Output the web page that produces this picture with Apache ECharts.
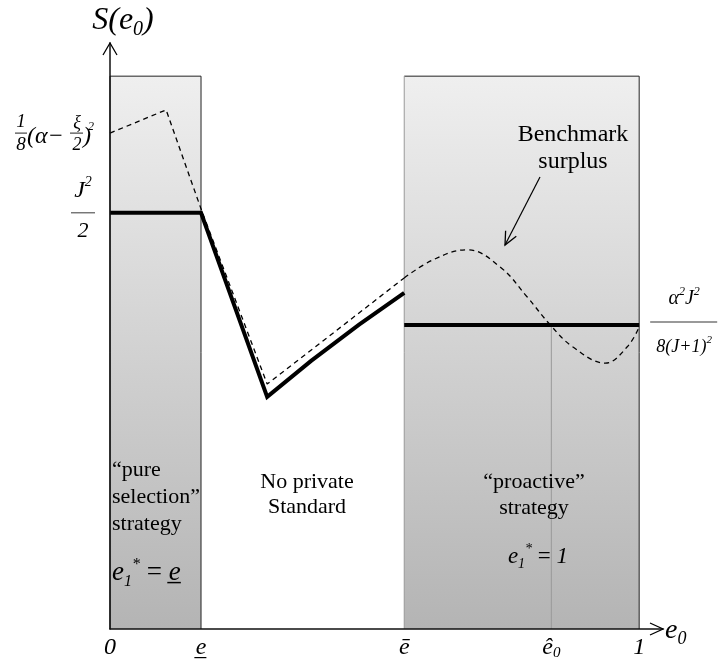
<!DOCTYPE html>
<html>
<head>
<meta charset="utf-8">
<script src="https://cdn.jsdelivr.net/npm/echarts@6/dist/echarts.min.js"></script>
<style>
html, body { margin: 0; padding: 0; background: #fff; }
#chart { width: 718px; height: 663px; }
</style>
</head>
<body>
<div id="chart"></div>
<script>
// region bounds on the e0 axis: [0, e_] and [ē, 1]
const regionX = [[0, 0.172], [0.556, 1]];
const regionTop = 100;
const eHat = 0.834;
const eHatLevel = 55;

const xTickValues = [0, 0.172, 0.556, 0.834, 1];
const xTickLabels = ['{i|0}', '{i|e\u0332}', '{i|\u0113}', '{i|\u00ea}{sub|0}', '{i|1}'];

// benchmark surplus (dashed): kinked part, then smooth part
const benchX1 = [0, 0.106, 0.172, 0.297, 0.556];
const benchY1 = [89.7, 93.9, 76.0, 44.3, 63.5];
const benchX2 = [0.556, 0.611, 0.675, 0.737, 0.788, 0.832, 0.875, 0.936, 0.977, 1.0];
const benchY2 = [63.5, 66.8, 68.6, 65.5, 60.1, 55.0, 51.0, 48.1, 51.0, 54.6];

// equilibrium surplus (thick)
const surplusX1 = [0, 0.172, 0.297, 0.380, 0.470, 0.556];
const surplusY1 = [75.3, 75.3, 42.0, 48.5, 55.0, 60.8];
const surplusX2 = [0.556, 1];
const surplusY2 = [55, 55];

// y levels of the formula labels
const levelTop = 89.7;   // 1/8(α−ξ/2)²
const levelJ = 75.3;     // J²/2
const levelRight = 55;   // α²J²/8(J+1)²

const FONT = '"Liberation Serif", "Times New Roman", serif';
const pts = (xs, ys) => xs.map((x, i) => [x, ys[i]]);

const chart = echarts.init(document.getElementById('chart'));

const option = {
  animation: false,
  grid: { left: 110, right: 55, top: 43, bottom: 34 },
  xAxis: {
    type: 'value', min: 0, max: 1.045, z: 10,
    axisLine: { show: true, lineStyle: { color: '#111', width: 1.5 } },
    axisTick: { show: false },
    splitLine: { show: false },
    axisLabel: {
      customValues: xTickValues,
      margin: 6,
      color: '#000',
      formatter: v => xTickLabels[xTickValues.indexOf(v)] || '',
      rich: {
        i: { fontSize: 24, fontStyle: 'italic', fontFamily: FONT, lineHeight: 26, color: '#000' },
        sub: { fontSize: 15, fontStyle: 'italic', fontFamily: FONT, lineHeight: 14, verticalAlign: 'bottom', color: '#000' }
      }
    }
  },
  yAxis: {
    type: 'value', min: 0, max: 106, z: 10,
    axisLine: { show: true, lineStyle: { color: '#111', width: 1.5 } },
    axisTick: { show: false },
    splitLine: { show: false },
    axisLabel: { show: false }
  },
  series: [
    {
      type: 'custom', z: 1, silent: true,
      data: regionX.map(r => [r[0], r[1], regionTop, 0]),
      encode: { x: [0, 1], y: [2, 3] },
      renderItem: (params, api) => {
        const p0 = api.coord([api.value(0), api.value(2)]);
        const p1 = api.coord([api.value(1), api.value(3)]);
        const line = (x1, y1, x2, y2, c) => ({
          type: 'line', shape: { x1, y1, x2, y2 }, style: { stroke: c, lineWidth: 1 }
        });
        return {
          type: 'group',
          children: [
            {
              type: 'rect',
              shape: { x: p0[0], y: p0[1], width: p1[0] - p0[0], height: p1[1] - p0[1] },
              style: {
                fill: {
                  type: 'linear', x: 0, y: 0, x2: 0, y2: 1,
                  colorStops: [{ offset: 0, color: '#efefef' }, { offset: 1, color: '#b4b4b4' }]
                }
              }
            },
            line(p0[0], p0[1], p1[0], p0[1], '#222'),
            line(p1[0], p0[1], p1[0], p1[1], '#222'),
            line(p0[0], p0[1], p0[0], p1[1], params.dataIndex === 0 ? '#222' : '#999')
          ]
        };
      }
    },
    {
      type: 'line', z: 2, symbol: 'none', silent: true,
      data: [[eHat, 0], [eHat, eHatLevel]],
      lineStyle: { color: '#999', width: 1 }
    },
    {
      type: 'line', z: 3, symbol: 'none', silent: true,
      data: pts(benchX1, benchY1),
      lineStyle: { color: '#000', width: 1.3, type: [5, 4] }
    },
    {
      type: 'line', z: 3, symbol: 'none', silent: true, smooth: 0.4,
      data: pts(benchX2, benchY2),
      lineStyle: { color: '#000', width: 1.3, type: [5, 4] }
    },
    {
      type: 'line', z: 4, symbol: 'none', silent: true,
      data: pts(surplusX1, surplusY1),
      lineStyle: { color: '#000', width: 4, join: 'miter' }
    },
    {
      type: 'line', z: 4, symbol: 'none', silent: true,
      data: pts(surplusX2, surplusY2),
      lineStyle: { color: '#000', width: 4 }
    }
  ]
};
chart.setOption(option);

// ---- annotations ----
const px = (x, y) => chart.convertToPixel({ gridIndex: 0 }, [x, y]);
const it = (size) => ({ fontSize: size, fontStyle: 'italic', fontFamily: FONT, fill: '#000' });

function txt(x, y, text, size, opts) {
  opts = opts || {};
  return {
    type: 'text', x, y, z: 20, silent: true,
    style: Object.assign({
      text,
      fontSize: size,
      fontFamily: FONT,
      fontStyle: opts.italic ? 'italic' : 'normal',
      fill: '#000',
      align: opts.align || 'center',
      verticalAlign: 'middle',
      lineHeight: opts.lineHeight
    }, opts.rich ? { rich: opts.rich } : {})
  };
}
function seg(x1, y1, x2, y2, color, width) {
  return {
    type: 'line', z: 20, silent: true,
    shape: { x1, y1, x2, y2 },
    style: { stroke: color || '#000', lineWidth: width || 1 }
  };
}
function chevron(tip, dx, dy, len, spread) {
  // open arrowhead pointing along (dx, dy)
  const n = Math.hypot(dx, dy);
  const ux = dx / n, uy = dy / n;
  const bx = tip[0] - ux * len, by = tip[1] - uy * len;
  return {
    type: 'polyline', z: 20, silent: true,
    shape: { points: [[bx - uy * spread, by + ux * spread], tip, [bx + uy * spread, by - ux * spread]] },
    style: { stroke: '#000', lineWidth: 1.3, fill: null }
  };
}

const supRich = (size, supSize) => ({
  m: Object.assign(it(size), { lineHeight: size + 6 }),
  p: Object.assign(it(supSize), { lineHeight: supSize + 2, verticalAlign: 'top' }),
  b: Object.assign(it(supSize), { lineHeight: supSize + 2, verticalAlign: 'bottom' }),
  r: { fontSize: size, fontFamily: FONT, fill: '#000', lineHeight: size + 6 }
});

const origin = px(0, 0);
const yEnd = [origin[0], 43];
const xEnd = [663, origin[1]];
const g = [];

// axis arrowheads and titles
g.push(chevron(yEnd, 0, -1, 12, 7));
g.push(chevron(xEnd, 1, 0, 13, 6));
g.push(txt(123, 21, '{m|S(}{m|e}{b|0}{m|)}', 32, { rich: supRich(32, 20) }));
g.push(txt(665, 631, '{m|e}{b|0}', 28, { align: 'left', rich: supRich(28, 18) }));

// 1/8(α−ξ/2)²
const a1 = px(0, levelTop);
g.push(txt(a1[0] - 89, a1[1] - 11, '1', 19, { italic: true }));
g.push(seg(a1[0] - 95, a1[1], a1[0] - 83, a1[1], '#444', 1.2));
g.push(txt(a1[0] - 89, a1[1] + 12, '8', 19, { italic: true }));
g.push(txt(a1[0] - 83, a1[1] + 4, '(\u03b1\u2212', 24, { italic: true, align: 'left' }));
g.push(txt(a1[0] - 33, a1[1] - 10, '\u03be', 18, { italic: true }));
g.push(seg(a1[0] - 40, a1[1], a1[0] - 27, a1[1], '#444', 1.2));
g.push(txt(a1[0] - 33, a1[1] + 12, '2', 18, { italic: true }));
g.push(txt(a1[0] - 27, a1[1] + 4, ')', 24, { italic: true, align: 'left' }));
g.push(txt(a1[0] - 19, a1[1] - 6, '2', 12, { italic: true }));

// J²/2
const a2 = px(0, levelJ);
g.push(txt(a2[0] - 27, a2[1] - 22, '{m|J}{p|2}', 24, { rich: supRich(24, 14) }));
g.push(seg(a2[0] - 39, a2[1], a2[0] - 15, a2[1], '#777', 1.5));
g.push(txt(a2[0] - 27, a2[1] + 18, '2', 22, { italic: true }));

// α²J² / 8(J+1)²
const a3 = px(1, levelRight);
g.push(txt(a3[0] + 45, a3[1] - 26, '{m|\u03b1}{p|2}{m|J}{p|2}', 20, { rich: supRich(20, 12) }));
g.push(seg(a3[0] + 11, a3[1] - 3, a3[0] + 78, a3[1] - 3, '#777', 1.5));
g.push(txt(a3[0] + 45, a3[1] + 22, '{m|8(J+1)}{p|2}', 18, { rich: supRich(18, 11) }));

// region texts
g.push(txt(112, 497, '\u201cpure\nselection\u201d\nstrategy', 22, { align: 'left', lineHeight: 27 }));
g.push(txt(112, 573, '{m|e}{b|1}{p|*}{r| = }{m|e\u0332}', 27, { align: 'left', rich: supRich(27, 16) }));
g.push(txt(307, 495, 'No private\nStandard', 22, { lineHeight: 25 }));
g.push(txt(534, 495, '\u201cproactive\u201d\nstrategy', 22, { lineHeight: 26 }));
g.push(txt(538, 557, '{m|e}{b|1}{p|*}{r| = }{m|1}', 23, { rich: supRich(23, 14) }));
g.push(txt(573, 148, 'Benchmark\nsurplus', 24, { lineHeight: 27 }));

// pointer to the benchmark curve
const tail = [540, 177], head = [505, 245];
g.push(seg(tail[0], tail[1], head[0], head[1], '#000', 1.2));
g.push(chevron(head, head[0] - tail[0], head[1] - tail[1], 13, 6));

chart.setOption({ graphic: g });
</script>
</body>
</html>
